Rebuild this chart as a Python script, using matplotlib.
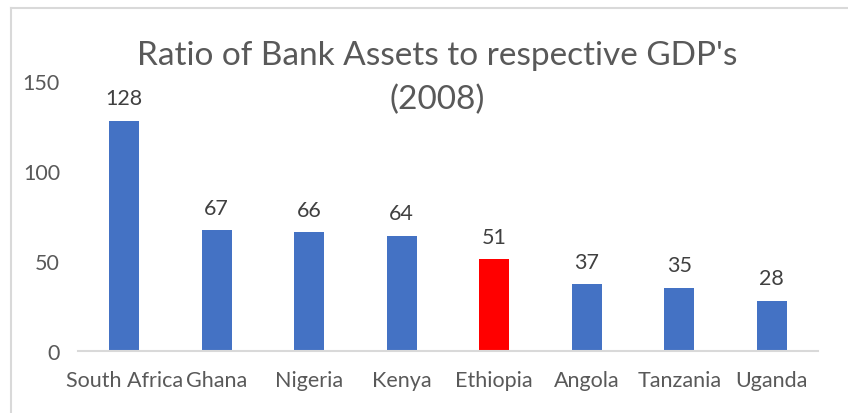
import matplotlib.pyplot as plt
from matplotlib.lines import Line2D

countries = ["South Africa", "Ghana", "Nigeria", "Kenya", "Ethiopia",
             "Angola", "Tanzania", "Uganda"]
ratios = [128, 67, 66, 64, 51, 37, 35, 28]
highlight = "Ethiopia"

colors = ["#ff0000" if c == highlight else "#4472c4" for c in countries]

plt.rcParams['font.family'] = ['Lato', 'DejaVu Sans']

fig = plt.figure(figsize=(8.48, 4.14), dpi=100)
ax = fig.add_axes([78 / 848, 1 - 352 / 414, 740 / 848, 270 / 414])

x = range(len(countries))
bars = ax.bar(x, ratios, width=0.32, color=colors)
for b, v in zip(bars, ratios):
    ax.text(b.get_x() + b.get_width() / 2, v + 7, str(v), ha='center',
            va='bottom', fontsize=15.5, color='#404040', clip_on=False)

ax.set_xlim(-0.5, len(countries) - 0.5)
ax.set_ylim(0, 150)
ax.set_yticks([0, 50, 100, 150])
ax.set_xticks(list(x))
ax.set_xticklabels(countries)
ax.tick_params(axis='both', length=0, labelsize=15.5, labelcolor='#595959')
ax.tick_params(axis='y', pad=13)
ax.tick_params(axis='x', pad=14)
for s in ['top', 'right', 'left']:
    ax.spines[s].set_visible(False)
ax.spines['bottom'].set_color('#d9d9d9')
ax.spines['bottom'].set_linewidth(1.5)

# title wraps onto two lines
title_lines = ["Ratio of Bank Assets to respective GDP's", "(2008)"]
for i, line in enumerate(title_lines):
    fig.text(437 / 848, 1 - (56 + 44 * i) / 414, line, ha='center',
             va='center', fontsize=24, color='#595959')

# chart frame, only the top and left edges are visible
fig.add_artist(Line2D([11 / 848, 1], [1 - 8.5 / 414, 1 - 8.5 / 414],
                      color='#d9d9d9', lw=1.5, transform=fig.transFigure))
fig.add_artist(Line2D([11 / 848, 11 / 848], [0, 1 - 8.5 / 414],
                      color='#d9d9d9', lw=1.5, transform=fig.transFigure))

fig.savefig("out.png", dpi=100)
